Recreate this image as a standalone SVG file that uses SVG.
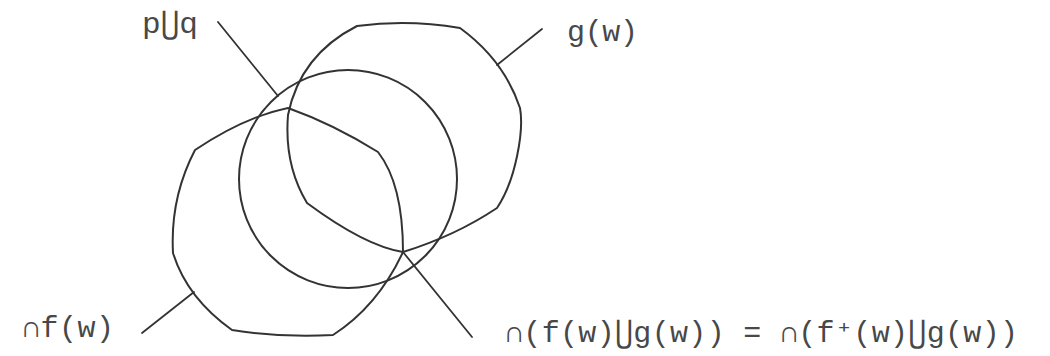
<svg xmlns="http://www.w3.org/2000/svg" width="1050" height="356" viewBox="0 0 1050 356">
<style>
.s{fill:none;stroke:#333;stroke-width:2;stroke-linejoin:round;stroke-linecap:round}
.c{fill:none;stroke:#333;stroke-width:1.8;stroke-linecap:round}
.t{font-family:"Liberation Mono","DejaVu Sans Mono",monospace;font-size:30px;fill:#484848}
</style>
<rect width="1050" height="356" fill="#fff"/>
<g id="circle-pq">
<circle class="s" cx="348" cy="179" r="109"/>
</g>
<g id="shape-g">
<path class="s" d="M357,26 Q408,19 460,28 Q504,60 520,108 C524,130 516,180 497,208 Q455,236 403,252 Q365,246 307,203 Q284,165 288,115 Q300,55 357,26 Z"/>
</g>
<g id="shape-f">
<path class="s" d="M288,108 Q244,117 195,150 Q170,198 173,253 Q187,298 232,330 Q283,338 333,335 Q378,306 403,252 Q403,184 378,152 Q333,124 288,108 Z"/>
</g>
<g id="connectors">
<line class="c" x1="218" y1="22" x2="278" y2="96"/>
<line class="c" x1="497" y1="65" x2="542" y2="29"/>
<line class="c" x1="142" y1="333" x2="194" y2="292"/>
<line class="c" x1="403" y1="252" x2="472" y2="337"/>
</g>
<g id="label-pq">
<text class="t" x="142" y="33" textLength="56" lengthAdjust="spacingAndGlyphs">p⋃q</text>
</g>
<g id="label-g">
<text class="t" x="567" y="41" textLength="71" lengthAdjust="spacing">g(w)</text>
</g>
<g id="label-f">
<text class="t" x="22" y="337" textLength="92" lengthAdjust="spacing">∩f(w)</text>
</g>
<g id="label-eq">
<text class="t" x="505" y="342" textLength="513" lengthAdjust="spacing">∩(f(w)⋃g(w)) = ∩(f⁺(w)⋃g(w))</text>
</g>
</svg>
